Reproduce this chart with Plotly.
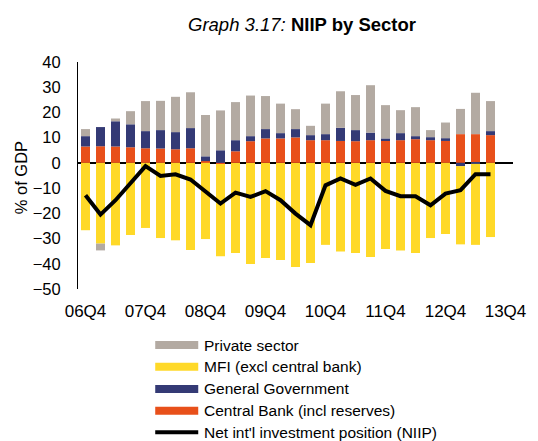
import plotly.graph_objects as go

quarters = ["06Q4","07Q1","07Q2","07Q3","07Q4","08Q1","08Q2","08Q3","08Q4",
            "09Q1","09Q2","09Q3","09Q4","10Q1","10Q2","10Q3","10Q4",
            "11Q1","11Q2","11Q3","11Q4","12Q1","12Q2","12Q3","12Q4",
            "13Q1","13Q2","13Q3"]
tick_labels = ["06Q4","07Q4","08Q4","09Q4","10Q4","11Q4","12Q4","13Q4"]

central_bank = [6.5,6.6,6.5,6.2,5.8,5.7,5.4,5.8,0.7,-0.4,4.6,8.6,9.7,9.7,10.1,
                9.0,9.0,8.7,8.6,9.0,9.0,9.0,9.4,9.0,8.7,11.4,11.4,11.0]
general_gov = [4.1,7.6,10.0,9.1,6.8,7.3,6.8,8.0,1.9,5.0,4.4,2.0,3.7,2.1,3.3,
               2.0,2.4,5.2,4.4,3.0,0.7,2.8,1.2,1.2,1.1,-1.3,-0.4,1.6]
mfi = [-26.7,-32.0,-32.7,-28.6,-25.8,-29.8,-30.7,-34.5,-30.2,-36.6,-35.7,-40.1,-37.7,-38.5,-41.3,
       -39.7,-32.5,-35.1,-35.7,-37.3,-34.1,-34.7,-35.7,-29.8,-28.2,-31.0,-32.1,-29.4]
private = [2.8,-2.7,1.1,5.2,11.9,11.6,14.0,14.2,16.4,15.8,15.1,16.1,13.1,11.7,7.9,
           3.7,12.1,14.5,13.9,18.8,13.2,9.1,11.5,2.8,6.2,10.0,16.4,11.9]
niip = [-12.8,-20.5,-14.8,-8.2,-1.3,-5.2,-4.5,-6.6,-11.5,-16.1,-11.8,-13.5,-11.2,-14.8,-20.1,
        -24.7,-8.9,-6.2,-8.7,-6.2,-11.1,-13.2,-13.2,-16.8,-12.2,-10.8,-4.5,-4.5]

names = ["Central Bank (incl reserves)", "General Government", "MFI (excl central bank)",
         "Private sector", "Net int'l investment position (NIIP)"]
colors = ["#E8501A", "#343A75", "#FFD928", "#B3AAA2", "#000000"]

x = list(range(len(quarters)))
tick_vals = list(range(0, 4 * len(tick_labels), 4))

fig = go.Figure()
for vals, nm, col in zip([central_bank, general_gov, mfi, private], names[:4], colors[:4]):
    fig.add_trace(go.Bar(x=x, y=vals, name=nm, marker_color=col, width=0.6,
                         marker_line_width=0, showlegend=False))
fig.add_trace(go.Scatter(x=x, y=niip, name=names[4], mode="lines",
                         line=dict(color="black", width=4), showlegend=False))

# page body adds an 8px offset; figure is sized to fit the window
OFF = 8
W, H = 538 - OFF, 441 - OFF
ml, mr, mt, mb = 78 - OFF, 15, 62 - OFF, 152
pw, ph = W - ml - mr, H - mt - mb

def px(xp):
    return (xp - OFF - ml) / pw

def py(yp):
    return (H - mb - (yp - OFF)) / ph

font = "Liberation Sans, Arial, sans-serif"

fig.update_layout(
    width=W, height=H,
    margin=dict(l=ml, r=mr, t=mt, b=mb),
    barmode="relative", bargap=0.4,
    plot_bgcolor="white", paper_bgcolor="white",
    font=dict(family=font, size=16, color="black"),
    title=dict(text="<i>Graph 3.17:</i> <b>NIIP by Sector</b>", x=(302 - OFF) / W, xanchor="center",
               xref="container", y=1 - (25 - OFF) / H, yanchor="middle", yref="container",
               font=dict(size=18.5)),
    xaxis=dict(range=[-0.5, 28.5], tickvals=tick_vals, ticktext=tick_labels,
               showgrid=False, zeroline=False, showline=False, ticks="",
               ticklabelstandoff=10, tickfont=dict(size=17)),
    yaxis=dict(range=[-50, 40], dtick=10, showgrid=False, zeroline=True,
               zerolinecolor="black", zerolinewidth=1.5, showline=True,
               linecolor="black", linewidth=1, ticks="", ticklabelstandoff=13,
               tickfont=dict(size=16.5)),
)

fig.add_annotation(text="% of GDP", textangle=-90, xref="paper", yref="paper",
                   x=px(20), y=py(178), xanchor="center", yanchor="middle",
                   showarrow=False, font=dict(size=16.5))

legend_order = [3, 2, 1, 0, 4]
legend_y = [345, 366.7, 389, 410.7, 432.3]
for i, yy in zip(legend_order, legend_y):
    if i < 4:
        fig.add_shape(type="rect", xref="paper", yref="paper",
                      x0=px(157), x1=px(201), y0=py(yy - 4), y1=py(yy + 4),
                      fillcolor=colors[i], line_width=0)
    else:
        fig.add_shape(type="line", xref="paper", yref="paper",
                      x0=px(157), x1=px(201), y0=py(yy), y1=py(yy),
                      line=dict(color="black", width=4))
    fig.add_annotation(text=names[i], xref="paper", yref="paper", x=px(205), y=py(yy),
                       xanchor="left", yanchor="middle", showarrow=False,
                       font=dict(size=15.5))

fig.write_html("out.html")
